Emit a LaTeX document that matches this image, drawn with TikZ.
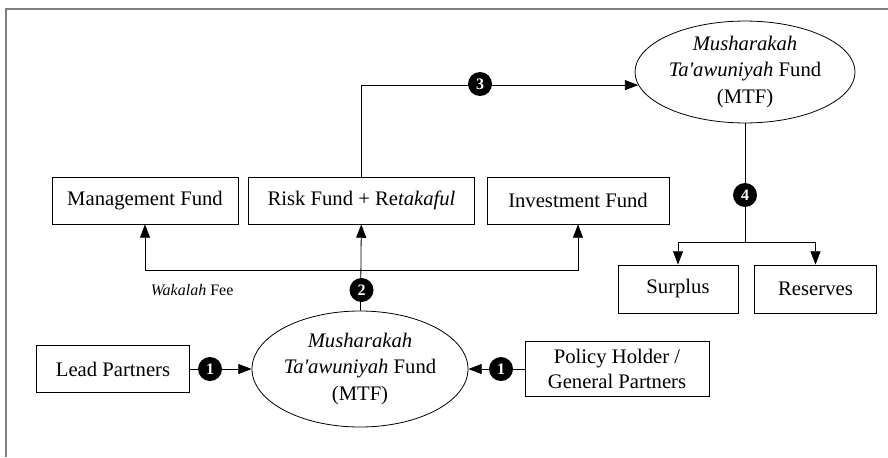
\documentclass[tikz,border=0pt]{standalone}
\usepackage{fontspec}
\setmainfont{Liberation Serif}
\usetikzlibrary{arrows.meta,shapes.geometric}
\begin{document}
\begin{tikzpicture}[x=0.75pt,y=-0.75pt,>={Triangle[length=10pt,width=7.5pt]},line width=0.6pt,
		fund/.style={draw,rectangle,minimum height=35.25pt,inner sep=2pt,font=\fontsize{15.5}{19}\selectfont,align=center},
		pool/.style={draw,ellipse,inner sep=0pt,align=center,font=\fontsize{15.5}{20}\selectfont},
		num/.style={circle,fill=black,text=white,inner sep=0pt,minimum size=18pt,font=\fontsize{12}{12}\selectfont\bfseries},
		]
				\useasboundingbox (0,0) rectangle (888,457);
				\draw[black!50,line width=1.5pt] (5.5,457)--(5.5,9)--(888,9);
				% funds
				\node[fund,minimum width=139.5pt] (mgmt) at (145,200.5) {Management Fund};
				\node[fund,minimum width=170pt] (risk) at (361.5,200.5) {Risk Fund + Re\textit{takaful}};
				\node[fund,minimum width=136.5pt] (invest) at (578,200.5) {Investment Fund};
				\node[fund,minimum width=90pt,minimum height=36pt] (surplus) at (678,289) {Surplus};
				\node[fund,minimum width=91pt,minimum height=36pt] (reserves) at (815.5,289) {Reserves};
				\node[fund,minimum width=114.75pt] (lead) at (113,369) {Lead Partners};
				\node[fund,minimum width=138pt,minimum height=41pt] (policy) at (617,369) {Policy Holder /\\General Partners};
				\node[pool,minimum width=162pt,minimum height=87pt] (mtf) at (360,369) {\textit{Musharakah}\\\textit{Ta\textquotesingle awuniyah} Fund\\(MTF)};
				\node[pool,minimum width=165pt,minimum height=70.5pt] (mtftop) at (745,72) {\textit{Musharakah}\\\textit{Ta\textquotesingle awuniyah} Fund\\(MTF)};
				% flows
				\coordinate (fork) at (361.5,270);
				\coordinate (split) at (745,242);
				\draw[->] (lead)--(mtf);
				\draw[->] (policy)--(mtf);
				\draw[->] (mtf)--(risk);
				\draw[->] (fork)-|(mgmt);
				\draw[->] (fork)-|(invest);
				\draw[->] (risk.north)|-(mtftop.187);
				\draw (mtftop)--(split);
				\draw[->] (split)-|(surplus);
				\draw[->] (split)-|(reserves);
				\node[anchor=west,font=\fontsize{12}{12}\selectfont] (fee) at (146,290) {\textit{Wakalah} Fee};
				% steps
				\node[num] (n1a) at (210,369) {1};
				\node[num] (n1b) at (501,369) {1};
				\node[num] (n2) at (361.5,290) {2};
				\node[num] (n3) at (480,84) {3};
				\node[num] (n4) at (745,195) {4};
			\end{tikzpicture}
\end{document}
